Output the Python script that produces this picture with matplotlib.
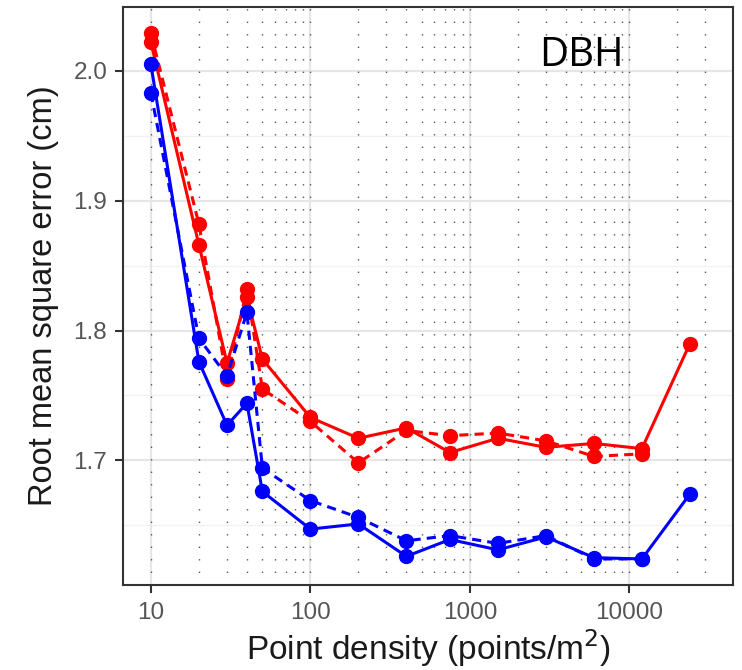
import numpy as np
import matplotlib.pyplot as plt

# point densities (points/m2)
density = [10, 20, 30, 40, 50, 100, 200, 400, 750, 1500, 3000, 6000, 12000, 24000]
density_dash = density[:-1]

red_solid = [2.022, 1.866, 1.775, 1.826, 1.778, 1.733, 1.717, 1.725, 1.706, 1.717, 1.710, 1.713, 1.709, 1.790]
red_dash = [2.029, 1.882, 1.763, 1.832, 1.755, 1.730, 1.698, 1.723, 1.719, 1.721, 1.715, 1.703, 1.705]
blue_solid = [2.005, 1.776, 1.727, 1.744, 1.676, 1.647, 1.651, 1.626, 1.639, 1.631, 1.641, 1.625, 1.624, 1.674]
blue_dash = [1.983, 1.794, 1.765, 1.814, 1.694, 1.669, 1.656, 1.638, 1.642, 1.636, 1.642, 1.624, 1.624]

vlines = [m * 10 ** e for e in range(1, 5) for m in range(1, 10) if m * 10 ** e <= 30000]

plt.rcParams['font.family'] = ['Liberation Sans', 'DejaVu Sans']

fig = plt.figure(figsize=(7.42, 6.70), dpi=100)
ax = fig.add_axes([0.166, 0.127, 0.822, 0.862])

ax.set_xscale('log')
ax.set_xlim(10 ** 0.826, 10 ** 4.651)
ax.set_ylim(1.604, 2.049)

# background grid
for y in [1.65, 1.75, 1.85, 1.95]:
	ax.axhline(y, color='#f2f2f2', lw=1.0, zorder=0)
for y in [1.7, 1.8, 1.9, 2.0]:
	ax.axhline(y, color='#e6e6e6', lw=1.6, zorder=0)
for x in [10, 100, 1000, 10000]:
	ax.axvline(x, color='#e6e6e6', lw=1.6, zorder=0)
for x in vlines:
	ax.axvline(x, color='#555555', lw=1.0, ls=(0, (1, 8)), zorder=1)

kw = dict(marker='o', ms=10, lw=2.2, zorder=3)
ax.plot(density, red_solid, color='#ff0000', **kw)
ax.plot(density_dash, red_dash, color='#ff0000', ls=(0, (3, 2)), **kw)
ax.plot(density, blue_solid, color='#0000ff', **kw)
ax.plot(density_dash, blue_dash, color='#0000ff', ls=(0, (3, 2)), **kw)

ax.set_xticks([10, 100, 1000, 10000])
ax.set_xticklabels(['10', '100', '1000', '10000'])
ax.xaxis.set_minor_locator(plt.NullLocator())
ax.set_yticks([1.7, 1.8, 1.9, 2.0])
ax.set_yticklabels(['1.7', '1.8', '1.9', '2.0'])
ax.tick_params(axis='both', which='major', direction='out', length=5.5, width=1.5,
	color='#333333', labelcolor='#555555', labelsize=17.5)
ax.tick_params(axis='y', pad=6)
ax.tick_params(axis='x', pad=7)

for s in ax.spines.values():
	s.set_color('#333333')
	s.set_linewidth(1.5)

ax.set_xlabel('Point density (points/m$^2$)', fontsize=24, color='#1a1a1a', labelpad=2)
ax.set_ylabel('Root mean square error (cm)', fontsize=23.5, color='#1a1a1a', labelpad=10)

ax.text(0.752, 0.917, 'DBH', transform=ax.transAxes, fontsize=29, family=['Open Sans', 'DejaVu Sans'],
	va='center', ha='center', color='black', zorder=5)

fig.savefig('out.png', dpi=100)
